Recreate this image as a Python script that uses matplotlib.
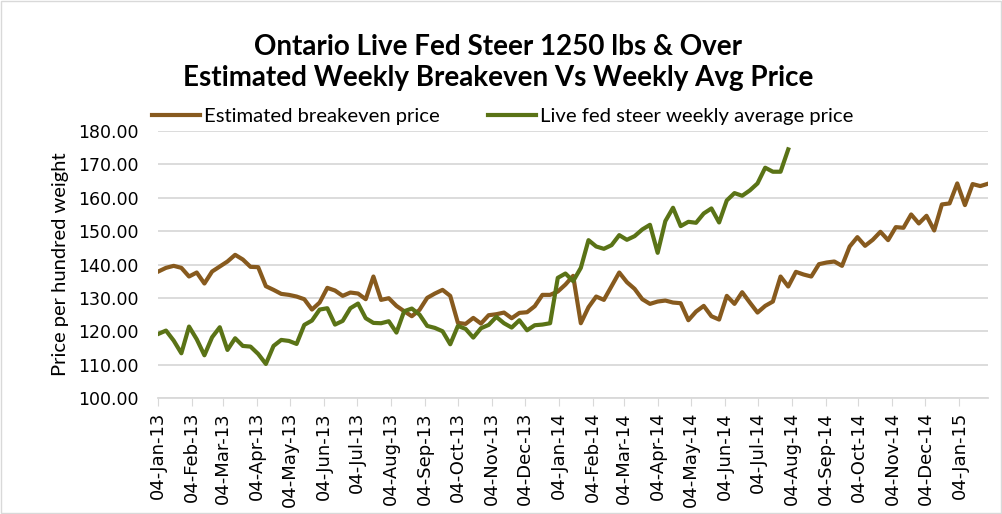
import matplotlib
matplotlib.use("Agg")
import matplotlib.pyplot as plt
import matplotlib.dates as mdates
import pandas as pd

plt.rcParams['font.family'] = ['Lato', 'DejaVu Sans']

# weekly series, first week 04-Jan-2013
start_date = "2013-01-04"

breakeven = [137.9, 139.0, 139.6, 139.0, 136.4, 137.6, 134.3, 137.9, 139.4, 140.9,
             142.9, 141.5, 139.3, 139.2, 133.5, 132.4, 131.2, 130.9, 130.4, 129.6,
             126.5, 128.6, 133.0, 132.2, 130.6, 131.6, 131.3, 129.6, 136.4, 129.4,
             129.9, 127.6, 126.0, 124.5, 126.4, 130.0, 131.3, 132.4, 130.6, 122.5,
             122.2, 124.0, 122.3, 124.8, 125.1, 125.6, 123.9, 125.5, 125.7, 127.5,
             130.9, 130.9, 131.9, 134.0, 136.6, 122.4, 127.2, 130.4, 129.4, 133.5,
             137.6, 134.7, 132.7, 129.6, 128.2, 128.9, 129.2, 128.6, 128.4, 123.3,
             125.9, 127.6, 124.5, 123.5, 130.6, 128.2, 131.7, 128.6, 125.6, 127.6,
             128.9, 136.4, 133.4, 137.8, 137.0, 136.4, 140.1, 140.6, 140.9, 139.6,
             145.4, 148.2, 145.6, 147.4, 149.8, 147.3, 151.2, 151.0, 155.0, 152.3,
             154.6, 150.2, 158.0, 158.3, 164.3, 157.8, 164.1, 163.5, 164.2]

live_price = [119.2, 120.2, 117.2, 113.4, 121.4, 117.6, 112.8, 118.2, 121.2, 114.4,
              117.9, 115.6, 115.4, 113.2, 110.2, 115.6, 117.4, 117.1, 116.2, 121.9,
              123.2, 126.5, 126.9, 122.0, 123.1, 126.9, 128.3, 123.9, 122.5, 122.4,
              123.0, 119.6, 126.0, 126.8, 125.0, 121.6, 121.0, 120.0, 116.1, 121.6,
              120.7, 118.1, 120.9, 121.9, 124.3, 122.4, 121.1, 123.3, 120.3, 121.8,
              122.0, 122.4, 136.0, 137.3, 135.0, 139.0, 147.3, 145.4, 144.7, 145.8,
              148.8, 147.4, 148.5, 150.5, 151.9, 143.5, 153.0, 157.0, 151.5, 152.8,
              152.5, 155.3, 156.8, 152.6, 159.2, 161.4, 160.6, 162.2, 164.3, 169.0,
              167.8, 167.8, 174.5]

series_names = ["Estimated breakeven price", "Live fed steer weekly average price"]
series_colors = ["#875A1E", "#5A7316"]
y_ticks = [100, 110, 120, 130, 140, 150, 160, 170, 180]

dates_be = pd.date_range(start_date, periods=len(breakeven), freq="7D")
dates_lp = pd.date_range(start_date, periods=len(live_price), freq="7D")

fig = plt.figure(figsize=(10.02, 5.14), dpi=100)
ax = fig.add_axes([0.158, 0.2257, 0.828, 0.5194])

ax.plot(dates_be, breakeven, color=series_colors[0], lw=3, label=series_names[0],
        solid_joinstyle='round', zorder=3)
ax.plot(dates_lp, live_price, color=series_colors[1], lw=3, label=series_names[1],
        solid_joinstyle='round', zorder=3)

ax.set_ylim(100, 180)
ax.set_yticks(y_ticks)
ax.set_yticklabels([f"{v:.2f}" for v in y_ticks], family='DejaVu Sans')
ax.set_xlim(dates_be[0], dates_be[-1])

ax.xaxis.set_major_locator(mdates.MonthLocator(bymonthday=4))
ax.xaxis.set_major_formatter(mdates.DateFormatter('%d-%b-%y'))
plt.setp(ax.get_xticklabels(), rotation=90, ha='center', va='top', family='DejaVu Sans')

ax.grid(axis='y', color='#D9D9D9', lw=1.3, zorder=0)
for s in ['top', 'right', 'left']:
    ax.spines[s].set_visible(False)
ax.spines['bottom'].set_color('#D9D9D9')
ax.spines['bottom'].set_linewidth(1.3)
ax.tick_params(axis='x', length=6, color='#D9D9D9', labelsize=13, pad=4)
ax.tick_params(axis='y', length=0, labelsize=12.5, pad=14)

ax.set_ylabel("Price per hundred weight", fontsize=14.5, labelpad=7)

fig.text(0.497, 0.908, "Ontario Live Fed Steer 1250 lbs & Over", ha='center', va='center',
         fontsize=20, fontweight='bold')
fig.text(0.497, 0.848, "Estimated Weekly Breakeven Vs Weekly Avg Price", ha='center',
         va='center', fontsize=20, fontweight='bold')

fig.legend(loc='center left', bbox_to_anchor=(0.1517, 0.774), ncol=2, frameon=False,
           fontsize=14.6, handlelength=2.36, handletextpad=0.2, columnspacing=2.4,
           borderaxespad=0, borderpad=0)

# thin chart border
fig.patches.append(plt.Rectangle((0.001, 0.001), 0.998, 0.998, transform=fig.transFigure,
                                 fill=False, edgecolor='#D9D9D9', lw=1))

plt.savefig("out.png", dpi=100)
